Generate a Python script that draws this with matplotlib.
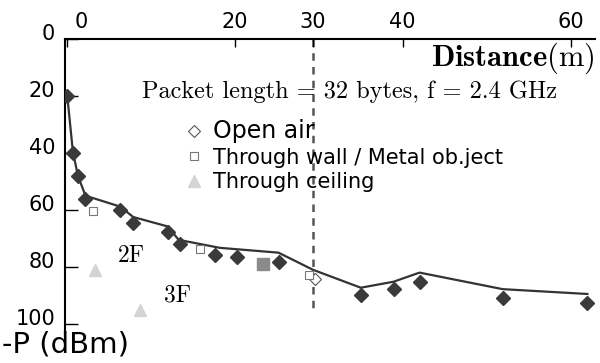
import matplotlib
matplotlib.use('Agg')
import matplotlib.pyplot as plt
import matplotlib.transforms as mtransforms

# measured received power, open air (filled diamonds)
open_air_x = [0, 0.7, 1.3, 2.2, 6.3, 7.9, 12.0, 13.5, 17.6, 20.2, 25.2, 35.0, 38.9, 42.0, 52.0, 62.0]
open_air_y = [20, 40, 48, 56, 60, 64.6, 67.7, 72, 75.8, 76.5, 78.2, 90, 87.8, 85.3, 91, 92.6]
# open diamonds
open_air_open_x = [-0.6, 29.5]
open_air_open_y = [19.6, 84.2]
# model curve
model_x = [0, 0.7, 1.3, 2.2, 6.3, 7.9, 12.0, 13.3, 18.2, 25.2, 29.3, 35.0, 38.9, 42.0, 51.9, 62.0]
model_y = [19, 39.5, 48, 55, 58.8, 62.5, 65.8, 70.5, 73.3, 75.0, 81, 87.3, 85.2, 82, 87.8, 89.5]
# through wall / metal object
wall_x = [3.1, 15.8, 28.8]
wall_y = [60.4, 73.7, 83]
metal_x = [23.3]
metal_y = [79]
# through ceiling
ceiling_x = [3.3, 8.7]
ceiling_y = [81, 95]
ceiling_labels = ['2F', '3F']

dashed_x = 29.3
dashed_ymax = 96

x_ticks = [0, 20, 29.3, 40, 60]
x_tick_labels = ['0', '20', '30', '40', '60']
y_ticks = [0, 20, 40, 60, 80, 100]
y_tick_labels = ['0', '20', '40', '60', '80', '100']

plt.rcParams['mathtext.fontset'] = 'cm'

fig = plt.figure(figsize=(6, 3.63), dpi=100)
ax = fig.add_axes([0.1083, 0.0826, 0.8833, 0.81])

ax.plot(model_x, model_y, color='#333333', lw=1.6, zorder=2)
ax.plot(open_air_x, open_air_y, 'D', color='#3a3a3a', ms=7, zorder=3)
h_open, = ax.plot(open_air_open_x, open_air_open_y, 'D', mfc='white', mec='#555555',
                  mew=0.8, ms=6, zorder=2.5, label='Open air')
h_wall, = ax.plot(wall_x, wall_y, 's', mfc='white', mec='#777777', mew=0.8, ms=6,
                  zorder=2.5, label='Through wall / Metal ob.ject')
ax.plot(metal_x, metal_y, 's', color='#8a8a8a', ms=8, zorder=2.5)
h_ceil, = ax.plot(ceiling_x, ceiling_y, '^', color='#d4d4d4', ms=9, zorder=2.5,
                  label='Through ceiling')
for cx, cy, lab in zip(ceiling_x, ceiling_y, ceiling_labels):
    ax.annotate(lab, (cx, cy), xytext=(17, 2), textcoords='offset points',
                family='cmr10', fontsize=17, va='bottom')

ax.plot([dashed_x, dashed_x], [0, dashed_ymax], color='#555555', lw=1.8,
        dashes=(3, 2.5), zorder=1)

ax.set_xlim(-0.24, 62.9)
ax.set_ylim(103.2, 0)
ax.spines['right'].set_visible(False)
ax.spines['bottom'].set_visible(False)
ax.spines['top'].set_linewidth(1.5)
ax.spines['left'].set_linewidth(1.5)

ax.xaxis.tick_top()
ax.set_xticks(x_ticks, x_tick_labels)
ax.tick_params(axis='x', direction='in', length=6, width=1, pad=5, labelsize=15)
ax.set_yticks(y_ticks, y_tick_labels)
ax.tick_params(axis='y', direction='in', length=9, width=1, pad=7, labelsize=15)

up = mtransforms.ScaledTranslation(0, 5 / 72, fig.dpi_scale_trans)
for lab in ax.get_yticklabels():
    lab.set_transform(lab.get_transform() + up)
right = mtransforms.ScaledTranslation(0.14, 0, fig.dpi_scale_trans)
ax.get_xticklabels()[0].set_transform(ax.get_xticklabels()[0].get_transform() + right)

leg = ax.legend(handles=[h_open, h_wall, h_ceil], frameon=False, numpoints=1,
                loc='upper left', bbox_to_anchor=(0.19, 0.79), handlelength=0.9,
                handletextpad=0.45, labelspacing=0.2, fontsize=15)
leg.get_texts()[0].set_fontsize(17)

ax.text(0.145, 0.82, 'Packet length = 32 bytes, f = 2.4 GHz', transform=ax.transAxes,
        family='cmr10', fontsize=17.5, va='center')
ax.text(1.0, 0.935, r'$\mathbf{Distance}\mathrm{(m)}$', transform=ax.transAxes,
        fontsize=22, ha='right', va='center')
fig.text(0.003, 0.05, '-P (dBm)', fontsize=21, va='center')

fig.savefig('out.png', dpi=100)
